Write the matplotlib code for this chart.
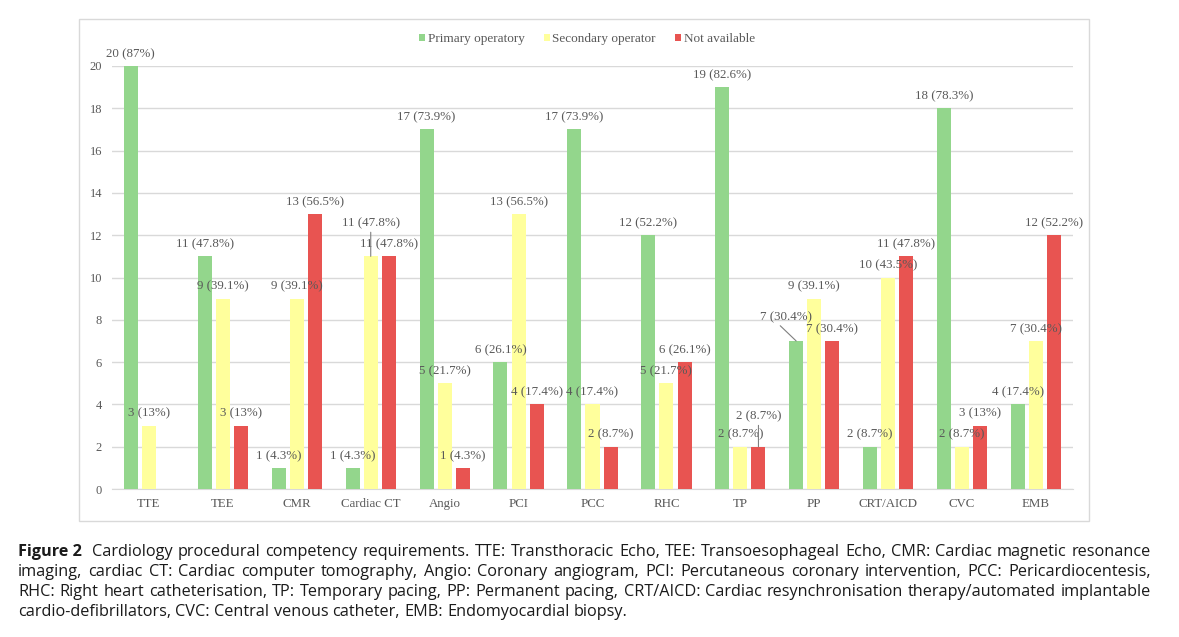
import matplotlib.pyplot as plt
from matplotlib.patches import Rectangle

categories = ["TTE", "TEE", "CMR", "Cardiac CT", "Angio", "PCI", "PCC",
              "RHC", "TP", "PP", "CRT/AICD", "CVC", "EMB"]
series_names = ["Primary operatory", "Secondary operator", "Not available"]

primary = [20, 11, 1, 1, 17, 6, 17, 12, 19, 7, 2, 18, 4]
secondary = [3, 9, 9, 11, 5, 13, 4, 5, 2, 9, 10, 2, 7]
not_avail = [0, 3, 13, 11, 1, 4, 2, 6, 2, 7, 11, 3, 12]

primary_pct = [87, 47.8, 4.3, 4.3, 73.9, 26.1, 73.9, 52.2, 82.6, 30.4, 8.7, 78.3, 17.4]
secondary_pct = [13, 39.1, 39.1, 47.8, 21.7, 56.5, 17.4, 21.7, 8.7, 39.1, 43.5, 8.7, 30.4]
not_avail_pct = [0, 13, 56.5, 47.8, 4.3, 17.4, 8.7, 26.1, 8.7, 30.4, 47.8, 13, 52.2]

yticks = list(range(0, 21, 2))

caption_lines = [
    "Cardiology procedural competency requirements. TTE: Transthoracic Echo, TEE: Transoesophageal Echo, CMR: Cardiac magnetic resonance",
    "imaging, cardiac CT: Cardiac computer tomography, Angio: Coronary angiogram, PCI: Percutaneous coronary intervention, PCC: Pericardiocentesis,",
    "RHC: Right heart catheterisation, TP: Temporary pacing, PP: Permanent pacing, CRT/AICD: Cardiac resynchronisation therapy/automated implantable",
    "cardio-defibrillators, CVC: Central venous catheter, EMB: Endomyocardial biopsy.",
]

colors = ["#93D68C", "#FFFF9C", "#E85451"]
grey = "#595959"
serif = ["Liberation Serif", "DejaVu Serif"]
cap_font = ["Open Sans", "DejaVu Sans"]

fig = plt.figure(figsize=(11.79, 6.37), dpi=100)
W, H = 1179, 637
ax = fig.add_axes([112 / W, 1 - 489 / H, (1073 - 112) / W, (489 - 66) / H])

# outer chart frame
fig.patches.append(Rectangle((79 / W, 1 - 521 / H), (1089 - 79) / W, (521 - 19) / H,
                             transform=fig.transFigure, fill=False,
                             edgecolor="#D9D9D9", lw=1.0))

width = 0.19
offset = 0.245
all_vals = [primary, secondary, not_avail]
all_pct = [primary_pct, secondary_pct, not_avail_pct]
x = list(range(len(categories)))

# labels moved off the bar with a leader line: (series, category) -> (dx, y, relpos)
leaders = {(1, 3): (0.0, 12.27, (0.5, 0)),
           (2, 8): (0.0, 3.14, (0.5, 0)),
           (0, 9): (-0.135, 7.85, (0.33, 0))}

for s in range(3):
    xs = [i + (s - 1) * offset for i in x]
    ax.bar(xs, all_vals[s], width=width, color=colors[s], label=series_names[s], zorder=3)
    for i, (xv, v, p) in enumerate(zip(xs, all_vals[s], all_pct[s])):
        if v == 0:
            continue
        lab = f"{v} ({p:g}%)"
        if (s, i) in leaders:
            dx, ly, rp = leaders[(s, i)]
            ax.annotate(lab, xy=(xv, v), xytext=(xv + dx, ly), textcoords="data",
                        ha="center", va="bottom", fontsize=9.3, color=grey,
                        family=serif, annotation_clip=False, zorder=6,
                        arrowprops=dict(arrowstyle="-", color="#7F7F7F", lw=0.8,
                                        shrinkA=0, shrinkB=0, relpos=rp))
        else:
            ax.annotate(lab, xy=(xv, v), xytext=(0, 8.6), textcoords="offset points",
                        ha="center", va="center", fontsize=9.3, color=grey,
                        family=serif, annotation_clip=False, zorder=6)

ax.set_xlim(-0.5, len(categories) - 0.5)
ax.set_ylim(0, 20)
ax.set_yticks(yticks)
ax.set_xticks(x)
ax.set_xticklabels(categories)
ax.yaxis.grid(True, color="#D9D9D9", lw=1.0, zorder=0)
ax.set_axisbelow(True)
for sp in ["top", "right", "left"]:
    ax.spines[sp].set_visible(False)
ax.spines["bottom"].set_color("#D9D9D9")
ax.tick_params(axis="both", length=0, colors=grey)
ax.tick_params(axis="x", pad=6.5)
ax.tick_params(axis="y", pad=7.2)
for t in ax.get_xticklabels():
    t.set_family(serif)
    t.set_fontsize(9.3)
for t in ax.get_yticklabels():
    t.set_family(serif)
    t.set_fontsize(9)

handles, labels = ax.get_legend_handles_labels()
leg = fig.legend(handles, labels, loc="center", bbox_to_anchor=(587 / W, 1 - 39 / H),
                 ncol=3, frameon=False, handlelength=0.45, handleheight=0.45,
                 handletextpad=0.2, columnspacing=1.45,
                 prop={"family": serif, "size": 9.5})
for t in leg.get_texts():
    t.set_color(grey)

# justified caption, placed word by word
renderer = fig.canvas.get_renderer()
x0, x1 = 18, 1151
baselines = [556, 576.5, 596.5, 616.5]
label_gap = 6  # extra room after "Figure 2"


def text_width(s, weight, size):
    t = fig.text(0, 0, s, fontsize=size, family=cap_font, weight=weight)
    wd = t.get_window_extent(renderer).width
    t.remove()
    return wd


# size chosen so the last (unjustified) line ends where it does in the figure
cap_size = 10.5 * (630 - x0) / text_width(caption_lines[3], "normal", 10.5)
space = text_width("a a", "normal", cap_size) - text_width("aa", "normal", cap_size)

for k in range(4):
    words = [(w, "normal") for w in caption_lines[k].split(" ")]
    start = x0
    if k == 0:
        bw = text_width("Figure 2", "bold", cap_size)
        fig.text(x0 / W, 1 - baselines[k] / H, "Figure 2", fontsize=cap_size,
                 family=cap_font, weight="bold", color="#1A1A1A", va="baseline")
        start = x0 + bw + space + label_gap
    widths = [text_width(w, wt, cap_size) for w, wt in words]
    if k < 3:
        gap = ((x1 - start) - sum(widths)) / (len(words) - 1)
    else:
        gap = space
    cx = start
    for (w, wt), wd in zip(words, widths):
        fig.text(cx / W, 1 - baselines[k] / H, w, fontsize=cap_size, family=cap_font,
                 weight=wt, color="#1A1A1A", va="baseline", ha="left")
        cx += wd + gap

fig.savefig("out.png", dpi=100)
